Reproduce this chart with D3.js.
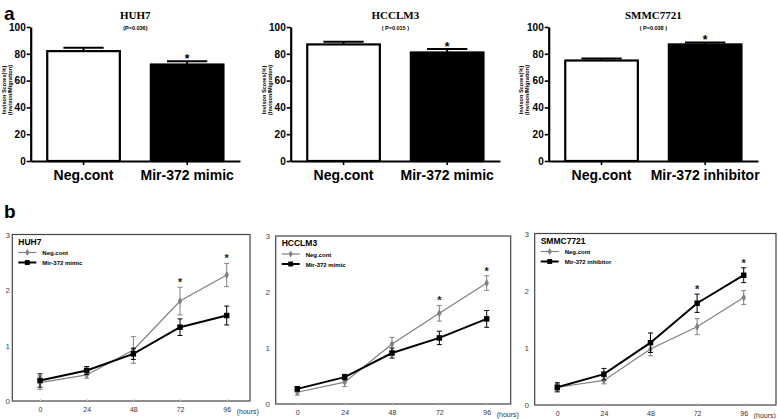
<!DOCTYPE html>
<html>
<head>
<meta charset="utf-8">
<script src="https://cdn.jsdelivr.net/npm/d3@7"></script>
<style>
  body { margin: 0; background: #fff; }
  svg { display: block; font-family: "Liberation Sans", Arial, sans-serif; }
</style>
</head>
<body>
<svg width="778" height="419"></svg>
<script>
const W = 778, H = 419;

// panel a - invasion scores
var barTitles = ["HUH7", "HCCLM3", "SMMC7721"];
var barPValues = ["(P=0.036)", "( P=0.015 )", "( P=0.038 )"];
var barCategories = [["Neg.cont", "Mir-372 mimic"], ["Neg.cont", "Mir-372 mimic"], ["Neg.cont", "Mir-372 inhibitor"]];
var barValues = [[82, 72], [87, 81], [75, 87]];
var barErrors = [[2.5, 2.5], [2, 2.5], [1.5, 1.5]];
var barTicks = [0, 20, 40, 60, 80, 100];

// panel b - growth curves
var hours = [0, 24, 48, 72, 96];
var lineTicks = [0, 1, 2, 3];
var lineTitles = ["HUH7", "HCCLM3", "SMMC7721"];
var lineLegend = [["Neg.cont", "Mir-372 mimic"], ["Neg.cont", "Mir-372 mimic"], ["Neg.cont", "Mir-372 inhibitor"]];
var negValues = [[0.33, 0.47, 0.92, 1.80, 2.27], [0.21, 0.39, 1.07, 1.62, 2.16], [0.31, 0.43, 0.98, 1.37, 1.88]];
var negErrors = [[0.12, 0.06, 0.24, 0.25, 0.21], [0.05, 0.08, 0.12, 0.14, 0.13], [0.06, 0.06, 0.12, 0.14, 0.12]];
var treatValues = [[0.37, 0.55, 0.85, 1.33, 1.54], [0.27, 0.48, 0.91, 1.18, 1.52], [0.31, 0.54, 1.09, 1.78, 2.27]];
var treatErrors = [[0.12, 0.07, 0.10, 0.15, 0.17], [0.04, 0.05, 0.09, 0.12, 0.15], [0.08, 0.10, 0.17, 0.16, 0.13]];
var starHours = [72, 96];

var svg = d3.select('svg');
const SANS = '"Liberation Sans", Arial, sans-serif';
const SERIF = '"Liberation Serif", "Times New Roman", serif';

svg.append('text').attr('x', 4).attr('y', 20).text('a')
  .attr('font-size', 19).attr('font-weight', 'bold');
svg.append('text').attr('x', 4).attr('y', 218).text('b')
  .attr('font-size', 19).attr('font-weight', 'bold');

// bar panels layout
var barLayout = [
  {x0: 30.7, x1: 240, labX: 5.5},
  {x0: 290.7, x1: 500, labX: 265.5},
  {x0: 548.7, x1: 758, labX: 522.5}
];

function barPanel(i) {
  let L = barLayout[i];
  let g = svg.append('g');
  let x = d3.scaleBand().domain(barCategories[i]).range([L.x0, L.x1])
    .paddingInner(0.28).paddingOuter(0.15);
  let y = d3.scaleLinear().domain([0, 100]).range([161, 27]);

  let yAxis = g.append('g').attr('transform', `translate(${L.x0},0)`)
    .call(d3.axisLeft(y).tickValues(barTicks).tickSize(4).tickSizeOuter(0).tickPadding(1));
  let xAxis = g.append('g').attr('transform', `translate(0,161)`)
    .call(d3.axisBottom(x).tickSize(4).tickSizeOuter(0).tickPadding(5));
  [yAxis, xAxis].forEach(a => {
    a.select('.domain').attr('stroke', '#000').attr('stroke-width', 2.2);
    a.selectAll('.tick line').attr('stroke', '#000').attr('stroke-width', 1.6);
  });
  yAxis.selectAll('text').attr('font-size', 10).attr('font-weight', 'bold')
    .attr('font-family', SANS).attr('fill', '#000');
  xAxis.selectAll('text').attr('font-size', 14).attr('font-weight', 'bold')
    .attr('font-family', SANS).attr('fill', '#000');

  let vals = barValues[i], errs = barErrors[i];
  // error bars
  barCategories[i].forEach((c, j) => {
    let cx = x(c) + x.bandwidth() / 2;
    let cw = x.bandwidth() * 0.27;
    g.append('line').attr('x1', cx).attr('x2', cx).attr('y1', y(vals[j])).attr('y2', y(vals[j] + errs[j]))
      .attr('stroke', '#000').attr('stroke-width', 2);
    g.append('line').attr('x1', cx - cw).attr('x2', cx + cw)
      .attr('y1', y(vals[j] + errs[j])).attr('y2', y(vals[j] + errs[j]))
      .attr('stroke', '#000').attr('stroke-width', 2);
  });
  g.selectAll('rect.bar').data(vals).enter().append('rect')
    .attr('x', (d, j) => x(barCategories[i][j]) + 1)
    .attr('width', x.bandwidth() - 2)
    .attr('y', d => y(d))
    .attr('height', d => y(0) - y(d))
    .attr('fill', (d, j) => j === 0 ? '#fff' : '#000')
    .attr('stroke', '#000').attr('stroke-width', 2.2);

  // star above the treated bar
  let c2 = barCategories[i][1];
  g.append('text').attr('x', x(c2) + x.bandwidth() / 2).attr('y', y(vals[1] + errs[1]) + 2)
    .attr('text-anchor', 'middle').attr('font-size', 12).attr('font-weight', 'bold').text('*');

  let mid = x(barCategories[i][0]) + (x(c2) + x.bandwidth() - x(barCategories[i][0])) / 2;
  g.append('text').attr('x', mid).attr('y', 18.5).attr('text-anchor', 'middle')
    .attr('font-family', SERIF)
    .attr('font-weight', 'bold').attr('font-size', 11).text(barTitles[i]);
  g.append('text').attr('x', mid).attr('y', 29.5).attr('text-anchor', 'middle')
    .attr('font-weight', 'bold').attr('font-size', 5.5).text(barPValues[i]);

  let yl = g.append('text').attr('transform', `translate(${L.labX},90) rotate(-90)`)
    .attr('text-anchor', 'middle').attr('font-weight', 'bold').attr('font-size', 5.6);
  yl.append('tspan').attr('x', 0).attr('dy', 0).text('Invison Scores(%)');
  yl.append('tspan').attr('x', 0).attr('dy', 6.3).text('(Invison/Migration)');
}

// line panels layout
var lineLayout = [
  {fx0: 12.3, fx1: 250, top: 234.5, bot: 401, h0: 40, h96: 226.7, tickX: 7},
  {fx0: 275.7, fx1: 510.7, top: 236, bot: 404, h0: 297.3, h96: 486.7, tickX: 267},
  {fx0: 534.7, fx1: 776, top: 233.5, bot: 405, h0: 557.3, h96: 743.7, tickX: 526}
];

function linePanel(i) {
  let L = lineLayout[i];
  let g = svg.append('g');
  let x = d3.scaleLinear().domain([0, 96]).range([L.h0, L.h96]);
  let y = d3.scaleLinear().domain([0, 3]).range([L.bot, L.top]);

  g.append('rect').attr('x', L.fx0).attr('y', L.top).attr('width', L.fx1 - L.fx0).attr('height', L.bot - L.top)
    .attr('fill', 'none').attr('stroke', '#444').attr('stroke-width', 1.2);

  let yAxis = g.append('g').attr('transform', `translate(${L.tickX + 3},0)`)
    .call(d3.axisLeft(y).tickValues(lineTicks).tickFormat(d3.format('d')).tickSize(0).tickPadding(0));
  yAxis.select('.domain').remove();
  yAxis.selectAll('text').attr('font-size', 8).attr('fill', '#444').attr('font-family', SANS);

  let xAxis = g.append('g').attr('transform', `translate(0,${L.bot})`)
    .call(d3.axisBottom(x).tickValues(hours).tickSize(2).tickSizeOuter(0).tickPadding(4));
  xAxis.select('.domain').remove();
  xAxis.selectAll('.tick line').attr('stroke', '#ccc').attr('transform', 'translate(0,-2)');
  xAxis.selectAll('text').attr('font-size', 7).attr('fill', '#333').attr('font-family', SANS);
  g.append('text').attr('x', x(96) + 10).attr('y', L.bot + 12.5).attr('font-size', 7).attr('fill', '#333').text('(hours)');

  let line = d3.line().x((d, j) => x(hours[j])).y(d => y(d));

  function series(vals, errs, color, width, marker) {
    let eb = g.append('g');
    vals.forEach((v, j) => {
      let cx = x(hours[j]);
      eb.append('line').attr('x1', cx).attr('x2', cx).attr('y1', y(v - errs[j])).attr('y2', y(v + errs[j]))
        .attr('stroke', color).attr('stroke-width', 1);
      [v - errs[j], v + errs[j]].forEach(e => {
        eb.append('line').attr('x1', cx - 2.5).attr('x2', cx + 2.5).attr('y1', y(e)).attr('y2', y(e))
          .attr('stroke', color).attr('stroke-width', 1);
      });
    });
    g.append('path').datum(vals).attr('d', line).attr('fill', 'none')
      .attr('stroke', color).attr('stroke-width', width);
    let sym = marker === 'square' ? d3.symbolSquare : d3.symbolDiamond;
    let size = marker === 'square' ? 30 : 18;
    g.selectAll('path.m' + marker).data(vals).enter().append('path')
      .attr('d', d3.symbol().type(sym).size(size))
      .attr('transform', (d, j) => `translate(${x(hours[j])},${y(d)})`)
      .attr('fill', color);
  }

  series(negValues[i], negErrors[i], '#808080', 1.2, 'diamond');
  series(treatValues[i], treatErrors[i], '#000', 2, 'square');

  // stars above the higher series
  starHours.forEach(hh => {
    let j = hours.indexOf(hh);
    let top = Math.max(negValues[i][j] + negErrors[i][j], treatValues[i][j] + treatErrors[i][j]);
    g.append('text').attr('x', x(hh)).attr('y', y(top) - 1).attr('text-anchor', 'middle')
      .attr('font-size', 11).attr('font-weight', 'bold').attr('fill', '#222').text('*');
  });

  // legend
  let lx = L.fx0 + 6;
  g.append('text').attr('x', lx).attr('y', L.top + 10).attr('font-size', 8.5).attr('font-weight', 'bold').text(lineTitles[i]);
  let ly = [L.top + 18, L.top + 28];
  g.append('line').attr('x1', lx).attr('x2', lx + 18).attr('y1', ly[0]).attr('y2', ly[0]).attr('stroke', '#808080').attr('stroke-width', 1.2);
  g.append('path').attr('d', d3.symbol().type(d3.symbolDiamond).size(14)).attr('transform', `translate(${lx + 9},${ly[0]})`).attr('fill', '#808080');
  g.append('line').attr('x1', lx).attr('x2', lx + 18).attr('y1', ly[1]).attr('y2', ly[1]).attr('stroke', '#000').attr('stroke-width', 2);
  g.append('path').attr('d', d3.symbol().type(d3.symbolSquare).size(24)).attr('transform', `translate(${lx + 9},${ly[1]})`).attr('fill', '#000');
  lineLegend[i].forEach((t, k) => {
    g.append('text').attr('x', lx + 24).attr('y', ly[k] + 2.5).attr('font-size', 6).attr('font-weight', 'bold').text(t);
  });
}

[0, 1, 2].forEach(i => { barPanel(i); linePanel(i); });
</script>
</body>
</html>
